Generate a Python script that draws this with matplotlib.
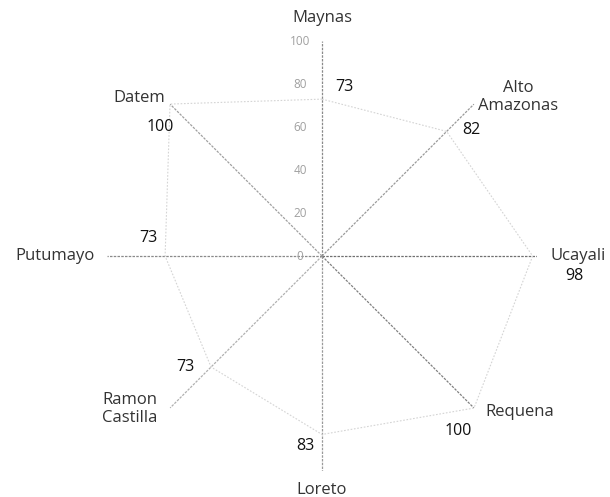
import numpy as np
import matplotlib
matplotlib.use("Agg")
import matplotlib.pyplot as plt

plt.rcParams['font.family'] = ['Open Sans', 'DejaVu Sans']

categories = ["Maynas", "Alto\nAmazonas", "Ucayali", "Requena", "Loreto",
              "Ramon\nCastilla", "Putumayo", "Datem"]
values = [73, 82, 98, 100, 83, 73, 73, 100]
r_ticks = [0, 20, 40, 60, 80, 100]

# label offsets (pixels) for category names relative to the spoke end
cat_offsets = [(0, 23), (44, 7), (41, 0), (46, -4), (0, -19), (-68, -1), (-52, 0), (-31, 6)]
cat_ha = ['center', 'center', 'center', 'center', 'center', 'left', 'center', 'center']
# data label offsets (pixels) relative to the data point
val_offsets = [(22, 12), (25, 1), (42, -20), (-16, -23), (-17, -12), (-26, 0), (-17, 18), (-10, -23)]

fig = plt.figure(figsize=(6.10, 4.97), dpi=100)
ax = fig.add_axes([0.1754, 0.0523, 0.705, 0.865], projection='polar')
ax.set_theta_zero_location('N')
ax.set_theta_direction(-1)
ax.set_ylim(0, 100)

n = len(categories)
theta = np.arange(n) * 2 * np.pi / n

# spokes
spoke_colors = ['#8a8a8a', '#9a9a9a', '#707070', '#808080', '#9a9a9a', '#b0b0b0', '#8a8a8a', '#a0a0a0']
for t, sc in zip(theta, spoke_colors):
    ax.plot([t, t], [0, 100], color=sc, lw=0.9, ls=(0, (2, 1)), zorder=2)

# series polygon (very faint in the reference)
th_c = np.append(theta, theta[0])
v_c = values + [values[0]]
ax.plot(th_c, v_c, color='#d4d4d4', lw=0.8, ls=(0, (1.5, 1.5)), zorder=3)

ax.set_xticks([])
ax.set_yticks([])
ax.grid(False)
ax.spines['polar'].set_visible(False)
ax.set_facecolor('none')

# radial tick labels
for rv in r_ticks:
    ax.annotate(str(rv), xy=(0, rv), xytext=(-22, 0), textcoords='offset pixels',
                ha='center', va='center', fontsize=8.5, color='#a0a0a0', annotation_clip=False)

# category labels
for t, c, off, ha in zip(theta, categories, cat_offsets, cat_ha):
    ax.annotate(c, xy=(t, 100), xytext=off, textcoords='offset pixels',
                ha=ha, va='center', fontsize=12, color='#333333',
                annotation_clip=False, linespacing=1.2, multialignment=ha)

# data labels
for t, v, off in zip(theta, values, val_offsets):
    ax.annotate(str(v), xy=(t, v), xytext=off, textcoords='offset pixels',
                ha='center', va='center', fontsize=11.5, color='#111111',
                annotation_clip=False)

fig.savefig('out.png', dpi=100, facecolor='white')
